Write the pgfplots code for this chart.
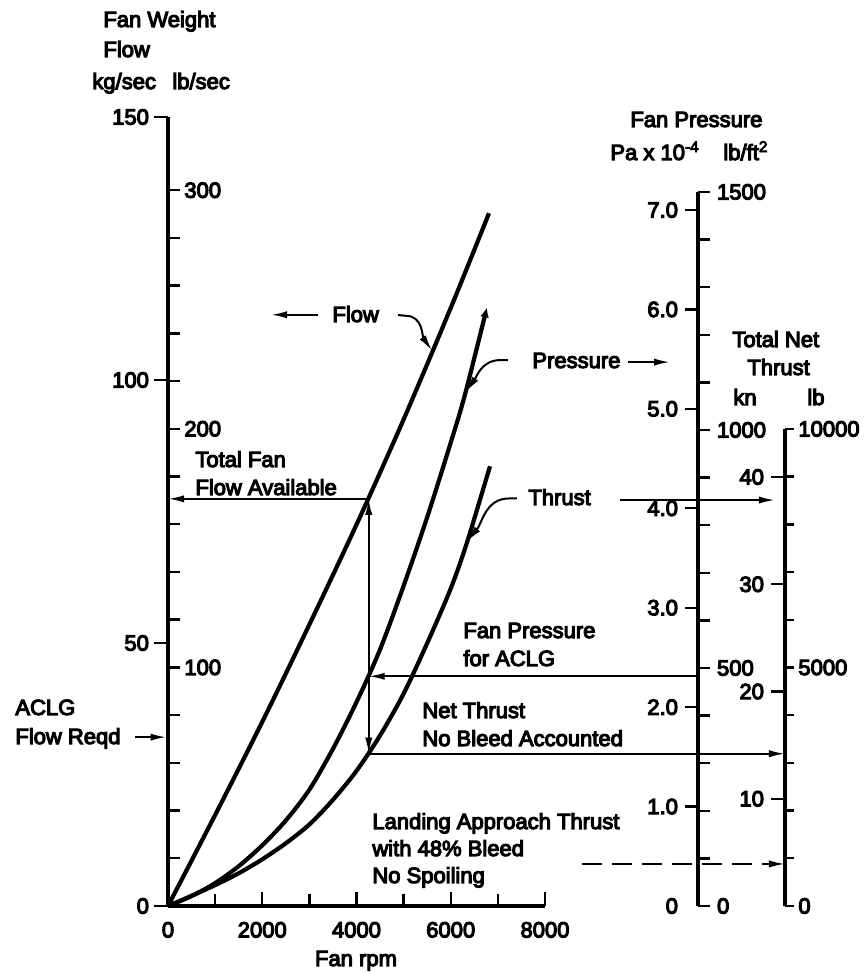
\documentclass[border=0pt]{standalone}
\usepackage{pgfplots}
\pgfplotsset{compat=1.18}
\usepackage{fontspec}
\setmainfont{Liberation Sans}[FakeBold=5]
\usetikzlibrary{arrows.meta}

% text placed on a grid of half points, origin at the top left
\newcommand{\lbl}[3]{\node[anchor=base west,inner sep=0pt] at (#1,#2) {#3};}

\tikzset{
  arr/.style={black, line width=1pt, -{Latex[length=8pt,width=3.6pt]}},
}
\pgfplotsset{
  every non boxed x axis/.style={},
  every non boxed y axis/.style={},
  every axis/.append style={
    scale only axis, clip=false, anchor=south west, enlargelimits=false,
    scaled ticks=false,
    font=\fontsize{11}{13}\selectfont,
    /pgf/number format/assume math mode=true,
    /pgf/number format/1000 sep={},
    every tick/.style={black, line width=1.2pt},
    axis line style={-, line width=1.7pt},
  },
  % a bare vertical scale with no horizontal extent
  bare scale/.style={
    width=1pt, xmin=0, xmax=1, axis x line=none,
    ytick align=outside,
  },
  curve/.style={black, line width=2.1pt, smooth},
}

\begin{document}
\begin{tikzpicture}
\useasboundingbox (0,0) rectangle (432.5pt,486.5pt);

% ---------- fan weight flow, kg/sec ----------
\begin{axis}[
  at={(84pt,33.5pt)}, width=188.5pt, height=394.5pt,
  xmin=0, xmax=8000, ymin=0, ymax=150,
  axis x line=bottom, axis y line=left,
  xtick={0,2000,4000,6000,8000}, minor xtick={1000,3000,5000,7000},
  ytick={0,50,100,150},
  xtick align=inside, ytick align=outside,
  major tick length=7pt, minor tick length=6pt,
  xticklabel style={yshift=-4.5pt},
  yticklabel style={xshift=1pt},
]
\addplot[curve] table {
rpm   flow
0     0
1000  17.3
2000  35.0
3000  53.5
4000  72.5
5000  92.5
6000  113.7
6812  131.7
};
\coordinate (ft) at (axis cs:4260,77.4);
% total fan flow available
\draw[arr] (ft) -- (axis cs:0,77.4);
% flow label
\draw[arr] (axis cs:3183,112.4) -- (axis cs:2186,112.4);
\draw[arr] (axis cs:4881,112.35) -- (axis cs:5050,112.2) to[out=0,in=125] (axis cs:5602,105.6);
% ACLG flow required
\draw[arr] (axis cs:-700,32.1) -- (axis cs:-30,32.1);
\end{axis}

% ---------- fan weight flow, lb/sec ----------
\begin{axis}[bare scale, anchor=south east,
  at={(84pt,33.5pt)}, height=394.5pt,
  ymin=0, ymax=330.69, axis y line=right,
  ytick={0,20,...,300}, yticklabels={,,,,,100,,,,,200,,,,,300},
  major tick length=6pt, yticklabel style={inner sep=2pt}]
\end{axis}

% ---------- fan pressure curve ----------
\begin{axis}[
  at={(84pt,33.5pt)}, width=188.5pt, height=394.5pt,
  xmin=0, xmax=8000, ymin=0, ymax=7.935, hide axis]
\addplot[curve, -{Latex[length=5pt,width=4.5pt]}] table {
rpm   pres
0     0
500   0.10
1000  0.23
1500  0.40
2000  0.61
2500  0.86
3000  1.17
3500  1.58
4000  2.05
4500  2.58
5000  3.22
5500  3.91
6000  4.66
6300  5.14
6769  6.02
};
\coordinate (pc) at (axis cs:4260,2.31);
% fan pressure for ACLG
\draw[arr] (axis cs:11247,2.31) -- (pc);
% pressure label
\draw[arr] (axis cs:9761,5.47) -- (axis cs:10653,5.47);
\draw[arr] (axis cs:7215,5.49) -- (axis cs:7045,5.49) to[out=180,in=55] (axis cs:6324,5.17);
\end{axis}

% ---------- thrust curve ----------
\begin{axis}[
  at={(84pt,33.5pt)}, width=188.5pt, height=394.5pt,
  xmin=0, xmax=8000, ymin=0, ymax=73.57, hide axis]
\addplot[curve] table {
rpm   thrust
0     0
500   0.95
1000  1.95
1500  3.05
2000  4.35
2500  5.85
3000  7.6
3500  9.9
4000  12.6
4500  15.9
5000  19.8
5500  24.5
6000  29.6
6345  33.9
6833  41.0
};
\coordinate (tb) at (axis cs:4260,14.2);
% net thrust, no bleed accounted
\draw[arr] (tb) -- (axis cs:13093,14.2);
% landing approach thrust
\draw[arr, dash pattern=on 10pt off 5pt] (axis cs:8785,3.92) -- (axis cs:13093,3.92);
% thrust label
\draw[arr] (axis cs:9592,37.85) -- (axis cs:12881,37.85);
\draw[arr] (axis cs:7406,38.0) -- (axis cs:7236,38.0) to[out=180,in=50] (axis cs:6345,34.0);
\end{axis}

\draw[black, line width=1pt, {Latex[length=8pt,width=3.6pt]}-{Latex[length=8pt,width=3.6pt]}] (tb) -- (ft);

% ---------- fan pressure scales ----------
\begin{axis}[bare scale, anchor=south west,
  at={(349pt,33.5pt)}, height=357.05pt,
  ymin=0, ymax=7.182, axis y line=left,
  ytick={1,...,7}, yticklabels={1.0,2.0,3.0,4.0,5.0,6.0,7.0},
  major tick length=6.5pt,
  extra y ticks={0}, extra y tick labels={0},
  extra y tick style={tick style={draw=none}}]
\end{axis}
\begin{axis}[bare scale, anchor=south east,
  at={(349pt,33.5pt)}, height=357.05pt,
  ymin=0, ymax=1500, axis y line=right,
  ytick={0,100,...,1500}, yticklabels={0,,,,,500,,,,,1000,,,,,1500},
  major tick length=6pt]
\end{axis}

% ---------- total net thrust scales ----------
\begin{axis}[bare scale, anchor=south west,
  at={(392.5pt,33.5pt)}, height=238.53pt,
  ymin=0, ymax=44.482, axis y line=left,
  ytick={10,20,30,40},
  major tick length=7pt]
\end{axis}
\begin{axis}[bare scale, anchor=south east,
  at={(392.5pt,33.5pt)}, height=238.53pt,
  ymin=0, ymax=10000, axis y line=right,
  ytick={0,1000,...,10000}, yticklabels={0,,,,,5000,,,,,10000},
  major tick length=4.5pt, yticklabel style={inner sep=2pt}]
\end{axis}

% ---------- titles and notes ----------
\begin{scope}[x=0.5pt, y=-0.5pt, yshift=486.5pt, font=\fontsize{11}{13}\selectfont]
\lbl{103}{27}{Fan Weight}
\lbl{103}{57}{Flow}
\lbl{92}{89}{kg/sec}
\lbl{172}{89}{lb/sec}
\lbl{630}{127}{Fan Pressure}
\lbl{610}{160}{Pa x 10\textsuperscript{-4}}
\lbl{723}{160}{lb/ft\textsuperscript{2}}
\lbl{732}{347}{Total Net}
\lbl{747}{375}{Thrust}
\lbl{733}{405}{kn}
\lbl{807}{405}{lb}
\lbl{332}{322}{Flow}
\lbl{532}{368}{Pressure}
\lbl{528}{505}{Thrust}
\lbl{195}{467}{Total Fan}
\lbl{195}{495}{Flow Available}
\lbl{463}{638}{Fan Pressure}
\lbl{463}{666}{for ACLG}
\lbl{422}{718}{Net Thrust}
\lbl{422}{746}{No Bleed Accounted}
\lbl{372}{829}{Landing Approach Thrust}
\lbl{372}{856}{with 48\% Bleed}
\lbl{372}{883}{No Spoiling}
\lbl{15}{715}{ACLG}
\lbl{15}{744}{Flow Reqd}
\node[anchor=base,inner sep=0pt] at (356,966) {Fan rpm};
\end{scope}
\end{tikzpicture}
\end{document}
